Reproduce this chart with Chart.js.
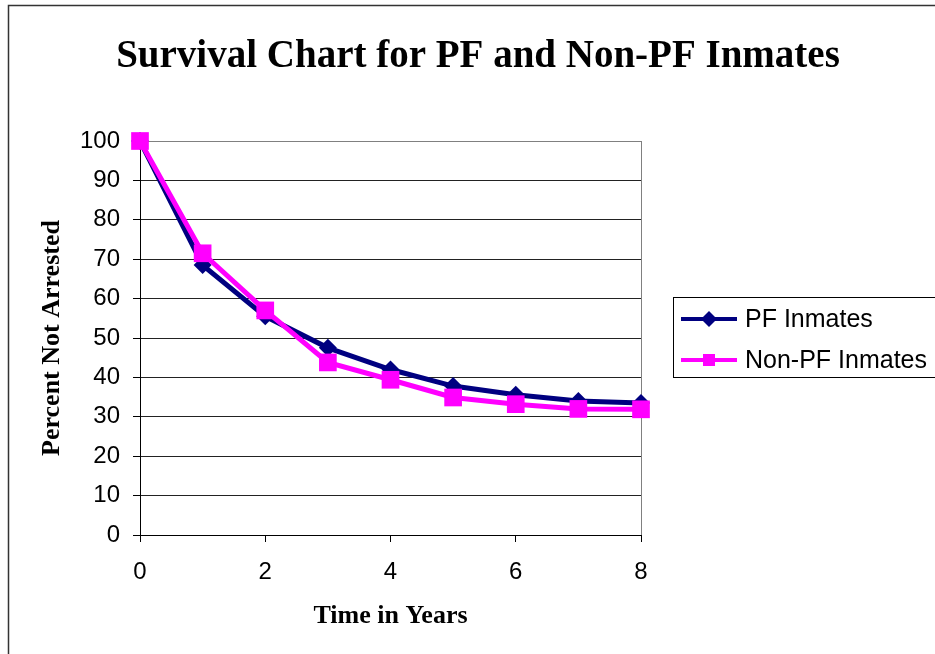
<!DOCTYPE html>
<html>
<head>
<meta charset="utf-8">
<script src="https://cdn.jsdelivr.net/npm/chart.js@4"></script>
<style>
  html, body { margin: 0; padding: 0; background: #fff; }
  #wrap { width: 935px; height: 654px; }
</style>
</head>
<body>
<div id="wrap"><canvas id="survivalChart" width="935" height="654"></canvas></div>
<script>
// data
const years = [0, 1, 2, 3, 4, 5, 6, 7, 8];
const pfInmates = [100, 68.5, 55.5, 47.5, 42, 37.8, 35.6, 34, 33.5];
const nonPfInmates = [100, 71.5, 57, 43.8, 39.4, 34.9, 33.2, 32, 31.9];
const xTicks = [0, 2, 4, 6, 8];
const yTicks = [0, 10, 20, 30, 40, 50, 60, 70, 80, 90, 100];
const chartTitle = 'Survival Chart for PF and Non-PF Inmates';

const serif = '"Liberation Serif", "Times New Roman", serif';
const sans = '"Liberation Sans", Arial, sans-serif';

// outer frame, white background and the centred title
const framePlugin = {
    id: 'frame',
    beforeDraw(chart) {
        const ctx = chart.ctx;
        ctx.save();
        ctx.fillStyle = '#fff';
        ctx.fillRect(0, 0, chart.width, chart.height);
        ctx.strokeStyle = '#333';
        ctx.lineWidth = 1.5;
        ctx.strokeRect(8.5, 5.5, 2000, 2000);
        ctx.fillStyle = '#000';
        ctx.font = 'bold 39px ' + serif;
        ctx.textAlign = 'center';
        ctx.textBaseline = 'middle';
        ctx.fillText(chartTitle, 478, 57);
        ctx.restore();
    }
};

// boxed legend on the right, like the original
const boxLegend = {
    id: 'boxLegend',
    afterDraw(chart) {
        const ctx = chart.ctx;
        ctx.save();
        ctx.strokeStyle = '#000';
        ctx.lineWidth = 1;
        ctx.strokeRect(673.5, 297.5, 400, 80);
        const rows = [319, 360];
        chart.data.datasets.forEach((ds, i) => {
            const y = rows[i];
            ctx.strokeStyle = ds.borderColor;
            ctx.lineWidth = 4;
            ctx.beginPath();
            ctx.moveTo(681, y);
            ctx.lineTo(737, y);
            ctx.stroke();
            ctx.fillStyle = ds.borderColor;
            ctx.beginPath();
            if (ds.pointStyle === 'rectRot') {
                ctx.moveTo(709, y - 8);
                ctx.lineTo(717, y);
                ctx.lineTo(709, y + 8);
                ctx.lineTo(701, y);
                ctx.closePath();
            } else {
                ctx.rect(703, y - 6, 12, 12);
            }
            ctx.fill();
            ctx.fillStyle = '#000';
            ctx.font = '25px ' + sans;
            ctx.textBaseline = 'middle';
            ctx.textAlign = 'left';
            ctx.fillText(ds.label, 745, y + 1);
        });
        ctx.restore();
    }
};

const ctx = document.getElementById('survivalChart').getContext('2d');
const survivalChart = new Chart(ctx, {
    type: 'line',
    data: {
        datasets: [
            {
                label: 'PF Inmates',
                data: years.map((x, i) => ({ x: x, y: pfInmates[i] })),
                borderColor: '#000080',
                backgroundColor: '#000080',
                borderWidth: 5,
                pointStyle: 'rectRot',
                pointRadius: 9,
                pointBorderWidth: 0,
                order: 1,
                clip: false,
                fill: false,
            },
            {
                label: 'Non-PF Inmates',
                data: years.map((x, i) => ({ x: x, y: nonPfInmates[i] })),
                borderColor: '#ff00ff',
                backgroundColor: '#ff00ff',
                borderWidth: 5,
                pointStyle: 'rect',
                pointRadius: 12.5,
                pointBorderWidth: 0,
                order: 0,
                clip: false,
                fill: false,
            },
        ],
    },
    options: {
        responsive: false,
        animation: false,
        layout: {
            padding: { left: 0, right: 294, top: 141, bottom: 0 },
        },
        plugins: {
            legend: { display: false },
            tooltip: { enabled: false },
            title: { display: false },
        },
        scales: {
            x: {
                type: 'linear',
                min: 0,
                max: 8,
                afterFit: (scale) => { scale.height = 119; },
                afterBuildTicks: (scale) => { scale.ticks = xTicks.map(v => ({ value: v })); },
                border: { display: true, color: '#000', width: 1 },
                grid: {
                    drawOnChartArea: true,
                    color: (c) => c.tick && c.tick.value === 8 ? '#808080' : 'rgba(0,0,0,0)',
                    tickColor: '#000',
                    tickLength: 7,
                },
                ticks: {
                    color: '#000',
                    font: { family: sans, size: 24 },
                    padding: 16,
                    maxRotation: 0,
                },
                title: {
                    display: true,
                    text: 'Time in Years',
                    color: '#000',
                    font: { family: serif, size: 26, weight: 'bold' },
                    padding: { top: 0, bottom: 22 },
                },
            },
            y: {
                min: 0,
                max: 100,
                afterFit: (scale) => { scale.width = 140; },
                afterBuildTicks: (scale) => { scale.ticks = yTicks.map(v => ({ value: v })); },
                border: { display: true, color: '#000', width: 1 },
                grid: {
                    color: (c) => c.tick && c.tick.value === 100 ? '#808080' : '#222',
                    tickColor: '#000',
                    tickLength: 7,
                },
                ticks: {
                    color: '#000',
                    font: { family: sans, size: 24 },
                    padding: 13,
                },
                title: {
                    display: true,
                    text: 'Percent Not Arrested',
                    color: '#000',
                    font: { family: serif, size: 26, weight: 'bold' },
                    padding: { top: 37, bottom: 0 },
                },
            },
        },
    },
    plugins: [framePlugin, boxLegend],
});
</script>
</body>
</html>
